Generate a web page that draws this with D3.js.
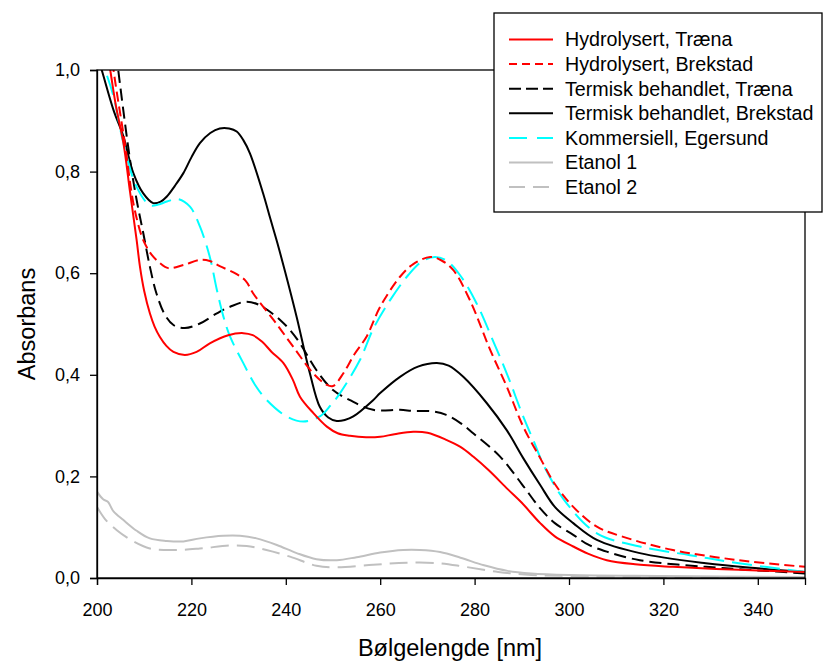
<!DOCTYPE html>
<html><head><meta charset="utf-8">
<script src="https://cdn.jsdelivr.net/npm/d3@7/dist/d3.min.js"></script>
<style>body{margin:0;background:#fff}svg{display:block}text{font-family:"Liberation Sans",Arial,sans-serif}</style>
</head><body>
<svg id="c" width="823" height="662"></svg>
<script>
const xTicks = [200,220,240,260,280,300,320,340];
const yTicks = [0,0.2,0.4,0.6,0.8,1.0];
const yTickLabels = ["0,0","0,2","0,4","0,6","0,8","1,0"];

const hydrolysertTraena = [[200,1.18],[201,1.10],[202.8,1.0],[204,0.93],[205.6,0.856],[207,0.76],[208.4,0.665],[209.1,0.613],[210,0.565],[211.2,0.521],[212.2,0.495],[213.3,0.475],[214.7,0.457],[216.2,0.445],[218.6,0.439],[221.1,0.445],[223.9,0.462],[227.8,0.478],[231,0.482],[233,0.478],[235,0.465],[237,0.445],[239.5,0.423],[241.5,0.39],[243,0.357],[245.8,0.325],[248.7,0.298],[251,0.285],[253.6,0.280],[257,0.277],[260,0.278],[263,0.283],[267,0.288],[270,0.286],[274,0.272],[277,0.258],[279.7,0.239],[283,0.212],[287,0.175],[290,0.148],[293.9,0.108],[297,0.082],[300.9,0.062],[304,0.048],[308,0.035],[314,0.027],[322,0.022],[336,0.016],[350,0.012]];
const hydrolysertBrekstad = [[200,1.25],[202,1.12],[203.5,1.0],[205.9,0.856],[207.7,0.738],[209.5,0.672],[210.5,0.652],[211.6,0.636],[213.3,0.620],[215.1,0.610],[218.3,0.616],[221.8,0.626],[223.9,0.624],[226,0.614],[229.6,0.598],[231.5,0.585],[233.1,0.560],[237.4,0.508],[241.6,0.455],[245.8,0.403],[248.7,0.380],[250,0.378],[252.2,0.403],[254.5,0.44],[257.1,0.475],[260,0.534],[264.2,0.593],[267,0.618],[270.6,0.632],[273,0.625],[275.5,0.606],[279,0.547],[283.3,0.449],[286.8,0.377],[290.3,0.298],[293.9,0.236],[297,0.185],[300.9,0.140],[305.9,0.101],[311.5,0.081],[322,0.055],[336,0.035],[350,0.022]];
const termiskTraena = [[200,1.35],[203,1.12],[204.5,1.0],[207,0.823],[208.4,0.744],[209.8,0.679],[211.2,0.613],[212.6,0.560],[214.4,0.518],[216.2,0.498],[218.6,0.492],[221.8,0.501],[225.4,0.521],[228.2,0.534],[231.7,0.544],[234.5,0.537],[236.5,0.525],[238.8,0.508],[241,0.487],[243,0.462],[246.5,0.409],[250,0.370],[253.6,0.350],[258.5,0.331],[264.2,0.331],[267,0.329],[271,0.328],[274,0.321],[277,0.305],[279.7,0.285],[285.4,0.239],[290,0.185],[293.9,0.137],[297,0.108],[300.9,0.085],[304,0.066],[308,0.052],[315,0.035],[329,0.022],[340,0.015],[350,0.009]];
const termiskBrekstad = [[200,1.03],[201,1.0],[203.5,0.921],[205.6,0.869],[207.7,0.797],[209.8,0.757],[211.9,0.738],[213.5,0.741],[214.8,0.751],[216.5,0.772],[218.3,0.797],[220,0.828],[221.8,0.856],[224,0.876],[226,0.885],[228,0.885],[229.6,0.879],[231,0.862],[232.4,0.836],[235.2,0.757],[236.7,0.708],[238.2,0.660],[239.8,0.605],[242.3,0.514],[245.1,0.403],[247.2,0.337],[249,0.316],[250.8,0.309],[252.5,0.311],[254.3,0.318],[258.5,0.350],[260,0.364],[264.2,0.396],[268,0.416],[272,0.423],[274.5,0.418],[277.6,0.396],[282.6,0.344],[286.8,0.291],[290.3,0.236],[293.9,0.183],[297,0.14],[300.9,0.108],[305.9,0.075],[315,0.049],[329,0.029],[340,0.019],[350,0.012]];
const kommersiellEgersund = [[200,1.04],[201.7,1.0],[203.5,0.948],[205.6,0.856],[208.4,0.770],[211.2,0.734],[213,0.735],[214.8,0.741],[217.2,0.746],[219.7,0.731],[221.8,0.692],[223.9,0.632],[225.4,0.567],[226.8,0.514],[228.2,0.475],[231,0.423],[233.5,0.38],[236,0.350],[240.2,0.318],[243.7,0.308],[247.2,0.318],[249.5,0.34],[251.5,0.364],[255.7,0.429],[258.5,0.49],[262.1,0.547],[266,0.597],[269,0.624],[271.6,0.632],[274,0.625],[277,0.595],[280.4,0.541],[284,0.465],[287.1,0.396],[290,0.325],[292.4,0.272],[295,0.215],[299.5,0.147],[305.9,0.088],[315,0.062],[325.6,0.045],[336,0.029],[350,0.012]];
const etanol1 = [[200,0.170],[201.3,0.155],[202.3,0.150],[203.5,0.131],[205.6,0.114],[208.4,0.093],[211.2,0.078],[214.8,0.073],[218.3,0.072],[221.8,0.078],[226.8,0.083],[230.3,0.083],[233.8,0.078],[238.1,0.065],[242.3,0.049],[246.5,0.037],[250.8,0.035],[255,0.041],[260,0.050],[264.9,0.055],[268.4,0.055],[272.7,0.051],[277,0.040],[282,0.025],[287,0.014],[292,0.009],[300,0.006],[320,0.004],[350,0.002]];
const etanol2 = [[200,0.140],[201.7,0.116],[204.2,0.094],[207.7,0.072],[211.2,0.058],[216.2,0.055],[221.8,0.058],[228.2,0.064],[231.7,0.063],[235.9,0.055],[240.9,0.042],[246.5,0.024],[250.8,0.021],[258.5,0.026],[265.6,0.030],[272.7,0.029],[278,0.022],[285,0.012],[292,0.006],[300,0.004],[320,0.002],[350,0.001]];

const seriesNames = ["Hydrolysert, Træna","Hydrolysert, Brekstad","Termisk behandlet, Træna","Termisk behandlet, Brekstad","Kommersiell, Egersund","Etanol 1","Etanol 2"];
const seriesData = [hydrolysertTraena,hydrolysertBrekstad,termiskTraena,termiskBrekstad,kommersiellEgersund,etanol1,etanol2];
const seriesColors = ["#ff0000","#ff0000","#000000","#000000","#00ffff","#c0c0c0","#c0c0c0"];
const seriesDash = [null,"10,5","12,6",null,"20,8",null,"18,8"];
const legendDash = [null,"8,5","12,5",null,"18,10",null,"16,8"];

const svg = d3.select("#c");
const L=97,R=805,T=70,B=578;
const x = d3.scaleLinear().domain([200,350]).range([L,R]);
const y = d3.scaleLinear().domain([0,1]).range([B,T]);

svg.append("defs").append("clipPath").attr("id","clip").append("rect")
  .attr("x",L).attr("y",T).attr("width",R-L).attr("height",B-T);

const line = d3.line().x(d=>x(d[0])).y(d=>y(d[1])).curve(d3.curveCatmullRom.alpha(0.5));
const g = svg.append("g").attr("clip-path","url(#clip)");
const order = [5,6,3,2,4,1,0];
order.forEach(i=>{
  g.append("path").datum(seriesData[i]).attr("d",line)
   .attr("fill","none").attr("stroke",seriesColors[i]).attr("stroke-width",2)
   .attr("stroke-dasharray",seriesDash[i]);
});

svg.append("rect").attr("x",L).attr("y",T).attr("width",R-L).attr("height",B-T)
  .attr("fill","none").attr("stroke","#000").attr("stroke-width",1.3);

const xAxis = svg.append("g").attr("transform",`translate(0,${B})`)
  .call(d3.axisBottom(x).tickValues(xTicks).tickSize(7).tickPadding(18).tickFormat(d3.format("d")));
const yAxis = svg.append("g").attr("transform",`translate(${L},0)`)
  .call(d3.axisLeft(y).tickValues(yTicks).tickSize(7).tickPadding(10).tickFormat((d,i)=>yTickLabels[i]));
[xAxis,yAxis].forEach(a=>{
  a.select(".domain").attr("stroke-width",1.3);
  a.selectAll(".tick line").attr("stroke-width",1.3);
  a.selectAll("text").attr("font-size",18).attr("fill","#000").attr("font-family","'Liberation Sans',Arial,sans-serif");
});

svg.append("text").attr("x",450).attr("y",656).attr("text-anchor","middle")
  .attr("font-size",23.5).text("Bølgelengde [nm]");
svg.append("text").attr("transform",`translate(35,324) rotate(-90)`).attr("text-anchor","middle")
  .attr("font-size",23.5).text("Absorbans");

const lg = svg.append("g");
lg.append("rect").attr("x",494).attr("y",13).attr("width",328).attr("height",199)
  .attr("fill","#fff").attr("stroke","#000").attr("stroke-width",1.3);
seriesNames.forEach((n,i)=>{
  const cy = 39.5 + i*24.6;
  lg.append("line").attr("x1",509).attr("x2",553).attr("y1",cy).attr("y2",cy)
    .attr("stroke",seriesColors[i]).attr("stroke-width",2)
    .attr("stroke-dasharray",legendDash[i]);
  lg.append("text").attr("x",565).attr("y",cy+6.8).attr("font-size",19.7).text(n);
});
</script>
</body></html>
